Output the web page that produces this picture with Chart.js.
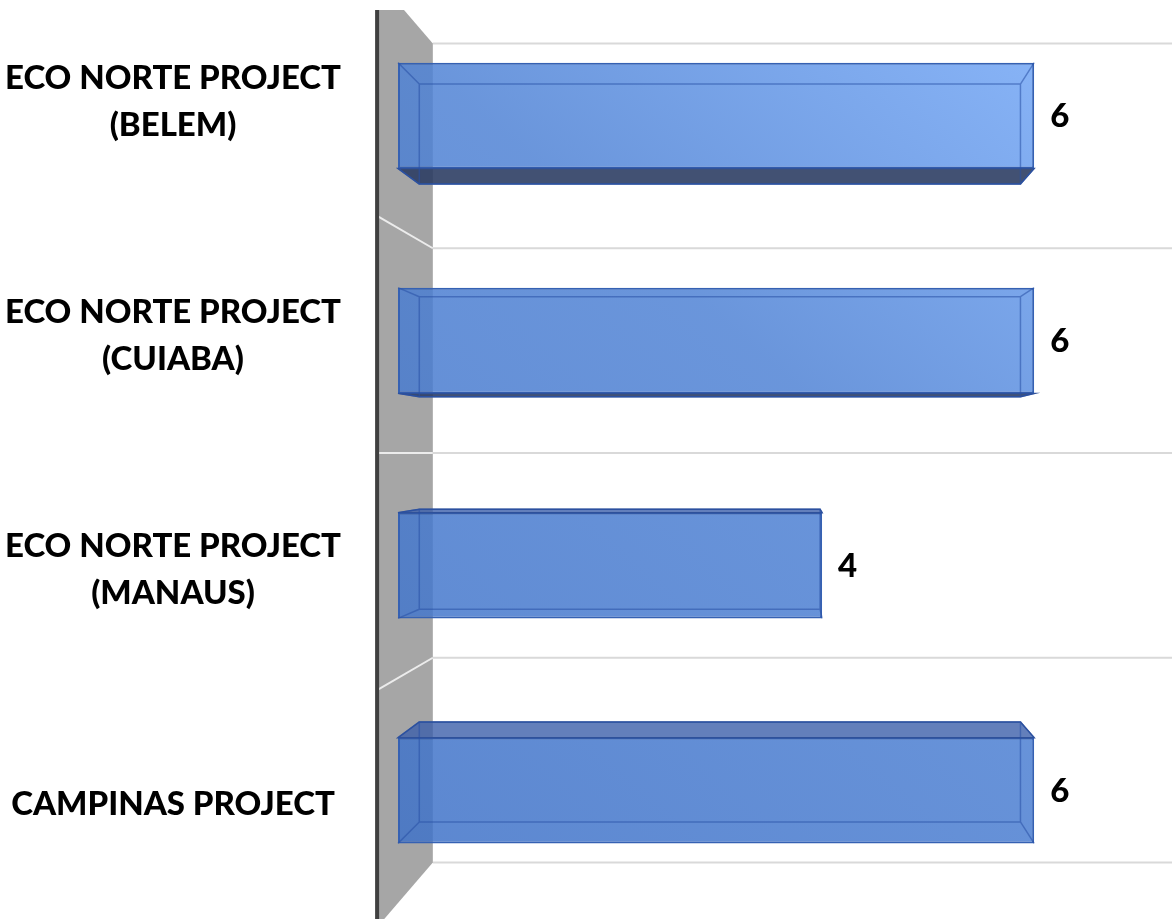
<!DOCTYPE html>
<html>
<head>
<meta charset="utf-8">
<script src="https://cdn.jsdelivr.net/npm/chart.js@4"></script>
<style>
  html, body { margin: 0; padding: 0; background: #fff; }
  #wrap { width: 1172px; height: 919px; position: relative; }
</style>
</head>
<body>
<div id="wrap"><canvas id="projectsChart"></canvas></div>
<script>
// ==================== DATA ====================
const categories = [
    ['ECO NORTE PROJECT', '(BELEM)'],
    ['ECO NORTE PROJECT', '(CUIABA)'],
    ['ECO NORTE PROJECT', '(MANAUS)'],
    ['CAMPINAS PROJECT']
];
const projectCounts = [6, 6, 4, 6];
const axisMax = 7.3;

const FONT = "Lato, 'Open Sans', sans-serif";

// simple fake perspective: every depth plane is scaled around the plot centre
function toPlane(chart, x, y, f) {
    const a = chart.chartArea;
    const cx = (a.left + a.right) / 2, cy = (a.top + a.bottom) / 2;
    return [cx + (x - cx) * f, cy + (y - cy) * f];
}

const BACK = 0.91, BAR_BACK = 0.945, WALL_FRONT = 1.054, LABEL_PLANE = 1.04;

const wallPlugin = {
    id: 'wall3d',
    beforeDatasetsDraw(chart) {
        const ctx = chart.ctx, a = chart.chartArea, y = chart.scales.y;
        const step = y.getPixelForValue(1) - y.getPixelForValue(0);
        const bounds = [];
        for (let i = 0; i <= categories.length; i++) {
            bounds.push(y.getPixelForValue(i) - step / 2);
        }
        const top = bounds[0], bottom = bounds[bounds.length - 1];
        const bt = toPlane(chart, a.left, top, BACK), bb = toPlane(chart, a.left, bottom, BACK);
        const ft = toPlane(chart, a.left, top, WALL_FRONT), fb = toPlane(chart, a.left, bottom, WALL_FRONT);

        ctx.save();
        // back gridlines
        ctx.strokeStyle = '#d9d9d9';
        ctx.lineWidth = 2;
        bounds.forEach(b => {
            const p = toPlane(chart, a.left, b, BACK);
            ctx.beginPath();
            ctx.moveTo(p[0], p[1]);
            ctx.lineTo(a.right, p[1]);
            ctx.stroke();
        });

        // side wall
        ctx.beginPath();
        ctx.rect(0, a.top + 7, chart.width, chart.height);
        ctx.clip();
        ctx.fillStyle = '#a6a6a6';
        ctx.beginPath();
        ctx.moveTo(ft[0], ft[1]);
        ctx.lineTo(bt[0], bt[1]);
        ctx.lineTo(bb[0], bb[1]);
        ctx.lineTo(fb[0], fb[1]);
        ctx.closePath();
        ctx.fill();

        ctx.strokeStyle = '#ececec';
        ctx.lineWidth = 2;
        bounds.slice(1, -1).forEach(b => {
            const p = toPlane(chart, a.left, b, BACK), q = toPlane(chart, a.left, b, WALL_FRONT);
            ctx.beginPath();
            ctx.moveTo(p[0], p[1]);
            ctx.lineTo(q[0], q[1]);
            ctx.stroke();
        });

        ctx.strokeStyle = '#404040';
        ctx.lineWidth = 4;
        ctx.beginPath();
        ctx.moveTo(ft[0], 0);
        ctx.lineTo(ft[0], chart.height);
        ctx.stroke();
        ctx.restore();
    },
    afterDatasetsDraw(chart) {
        const ctx = chart.ctx, a = chart.chartArea;
        const cy = (a.top + a.bottom) / 2;
        const meta = chart.getDatasetMeta(0);

        ctx.save();
        meta.data.forEach((el, i) => {
            const p = el.getProps(['x', 'y', 'base', 'height'], true);
            const l = p.base, r = p.x, t = p.y - p.height / 2, b = p.y + p.height / 2;
            const fTL = [l, t], fTR = [r, t], fBL = [l, b], fBR = [r, b];
            const bTL = toPlane(chart, l, t, BAR_BACK), bTR = toPlane(chart, r, t, BAR_BACK);
            const bBL = toPlane(chart, l, b, BAR_BACK), bBR = toPlane(chart, r, b, BAR_BACK);

            // visible floor / ceiling face
            const face = p.y < cy ? [fBL, fBR, bBR, bBL] : [fTL, fTR, bTR, bTL];
            ctx.beginPath();
            face.forEach((pt, k) => k ? ctx.lineTo(pt[0], pt[1]) : ctx.moveTo(pt[0], pt[1]));
            ctx.closePath();
            ctx.fillStyle = p.y < cy ? 'rgba(45,62,100,0.9)' : 'rgba(60,95,170,0.8)';
            ctx.fill();
            ctx.strokeStyle = '#2f519a';
            ctx.lineWidth = 1.5;
            ctx.stroke();

            // hidden edges seen through the glass
            ctx.strokeStyle = 'rgba(40,80,165,0.55)';
            ctx.lineWidth = 1.5;
            ctx.beginPath();
            ctx.moveTo(bTL[0], bTL[1]); ctx.lineTo(bTR[0], bTR[1]);
            ctx.lineTo(bBR[0], bBR[1]); ctx.lineTo(bBL[0], bBL[1]);
            ctx.closePath();
            [[fTL, bTL], [fTR, bTR], [fBL, bBL], [fBR, bBR]].forEach(s => {
                ctx.moveTo(s[0][0], s[0][1]);
                ctx.lineTo(s[1][0], s[1][1]);
            });
            ctx.stroke();

            // value label
            ctx.fillStyle = '#000';
            ctx.font = '900 33px ' + FONT;
            ctx.textAlign = 'left';
            ctx.textBaseline = 'middle';
            ctx.fillText(String(projectCounts[i]), r + 16, p.y + 1);

            // category label, sits on the front of the wall
            const lines = chart.data.labels[i];
            const ly = toPlane(chart, a.left, p.y, LABEL_PLANE)[1];
            const lh = 47;
            ctx.textAlign = 'center';
            lines.forEach((txt, k) => {
                ctx.fillText(txt, 173, ly + (k - (lines.length - 1) / 2) * lh);
            });
        });
        ctx.restore();
    }
};

document.addEventListener('DOMContentLoaded', function() {
    const ctx = document.getElementById('projectsChart');

    new Chart(ctx, {
        type: 'bar',
        data: {
            labels: categories,
            datasets: [{
                label: 'Projects',
                data: projectCounts,
                backgroundColor: function(c) {
                    const a = c.chart.chartArea;
                    if (!a) return 'rgba(80,131,213,0.85)';
                    const g = c.chart.ctx.createLinearGradient(a.left, a.bottom, a.right, a.top);
                    g.addColorStop(0, 'rgba(62,113,199,0.85)');
                    g.addColorStop(0.55, 'rgba(80,131,213,0.85)');
                    g.addColorStop(1, 'rgba(125,177,255,0.85)');
                    return g;
                },
                borderColor: '#3561b3',
                borderWidth: 2,
                borderSkipped: false,
                barPercentage: 0.47,
                categoryPercentage: 1
            }]
        },
        options: {
            indexAxis: 'y',
            responsive: true,
            maintainAspectRatio: false,
            animation: false,
            layout: {
                padding: { left: 398, right: 0, top: 3, bottom: 16 }
            },
            plugins: {
                legend: { display: false },
                tooltip: { enabled: false }
            },
            scales: {
                x: {
                    display: false,
                    min: 0,
                    max: axisMax
                },
                y: {
                    display: false
                }
            }
        },
        plugins: [wallPlugin]
    });
});
</script>
</body>
</html>
